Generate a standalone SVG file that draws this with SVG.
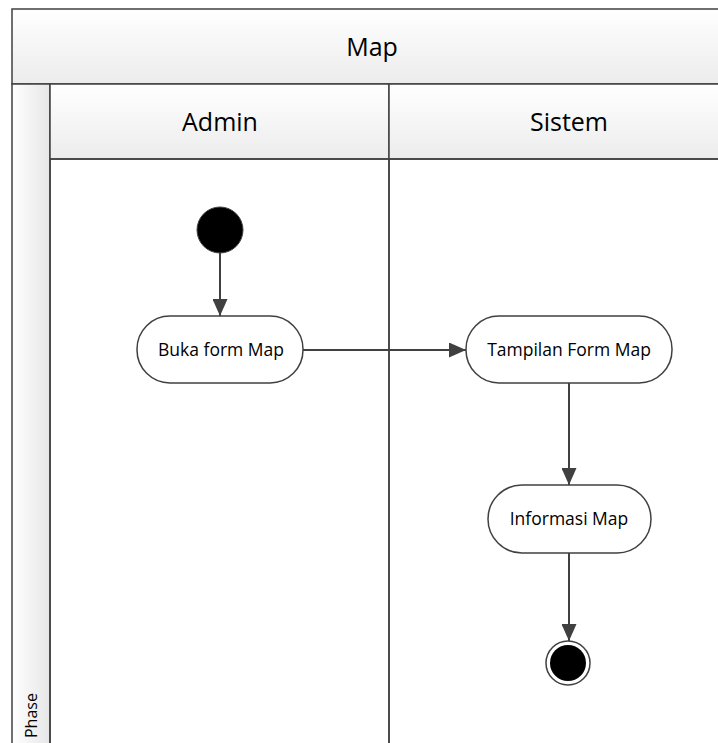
<svg xmlns="http://www.w3.org/2000/svg" width="718" height="743" viewBox="0 0 718 743">
<defs>
<linearGradient id="hdr" x1="0" y1="0" x2="0" y2="1"><stop offset="0" stop-color="#ffffff"/><stop offset="1" stop-color="#ececec"/></linearGradient>
<linearGradient id="ph" x1="0" y1="0" x2="1" y2="0"><stop offset="0" stop-color="#ffffff"/><stop offset="1" stop-color="#e6e6e6"/></linearGradient>
<marker id="arr" markerWidth="17" markerHeight="15" refX="17" refY="7.5" orient="auto" markerUnits="userSpaceOnUse" viewBox="0 0 17 15"><path d="M0,0 L17,7.5 L0,15 z" fill="#404040"/></marker>
<style>
.frame{fill:none;stroke:#404040;stroke-width:1.5}
.hd{fill:url(#hdr);stroke:#404040;stroke-width:1.5}
.node{fill:#ffffff;stroke:#404040;stroke-width:1.5}
.big{font-family:"Open Sans","Noto Sans",sans-serif;font-size:25px;fill:#000;text-anchor:middle}
.lbl{font-family:"Open Sans","Noto Sans",sans-serif;font-size:17.5px;fill:#000;text-anchor:middle}
.edge{fill:none;stroke:#404040;stroke-width:2;marker-end:url(#arr)}
</style>
</defs>
<rect x="0" y="0" width="718" height="743" fill="#ffffff"/>
<g id="pool">
<rect class="hd" x="12" y="9" width="720" height="75"/>
<text class="big" x="372" y="56">Map</text>
<rect x="12" y="84" width="38" height="670" fill="url(#ph)" stroke="#404040" stroke-width="1.5"/>
<text class="lbl" transform="translate(37,738) rotate(-90)" style="text-anchor:start;font-size:16px">Phase</text>
</g>
<g id="lane-admin">
<rect class="hd" x="50" y="84" width="339" height="75"/>
<text class="big" x="220" y="131">Admin</text>
<rect class="frame" x="50" y="159" width="339" height="600"/>
</g>
<g id="lane-sistem">
<rect class="hd" x="389" y="84" width="340" height="75"/>
<text class="big" x="569" y="131">Sistem</text>
<rect class="frame" x="389" y="159" width="340" height="600"/>
</g>
<g id="connectors">
<line class="edge" x1="220" y1="253" x2="220" y2="316"/>
<line class="edge" x1="303" y1="350" x2="466" y2="350"/>
<line class="edge" x1="569" y1="383" x2="569" y2="485"/>
<line class="edge" x1="569" y1="553" x2="569" y2="641"/>
</g>
<g id="start">
<circle cx="220" cy="230" r="23" fill="#000" stroke="#404040" stroke-width="1"/>
</g>
<g id="buka">
<rect class="node" x="137" y="316" width="166" height="67" rx="33" ry="33"/>
<text class="lbl" x="221" y="356">Buka form Map</text>
</g>
<g id="tampilan">
<rect class="node" x="466" y="316" width="206" height="67" rx="33" ry="33"/>
<text class="lbl" x="569" y="356">Tampilan Form Map</text>
</g>
<g id="informasi">
<rect class="node" x="488" y="485" width="163" height="68" rx="34" ry="34"/>
<text class="lbl" x="569" y="525">Informasi Map</text>
</g>
<g id="end">
<circle cx="568" cy="663" r="22" fill="#fff" stroke="#404040" stroke-width="1.5"/>
<circle cx="568" cy="663" r="18" fill="#000"/>
</g>
</svg>
